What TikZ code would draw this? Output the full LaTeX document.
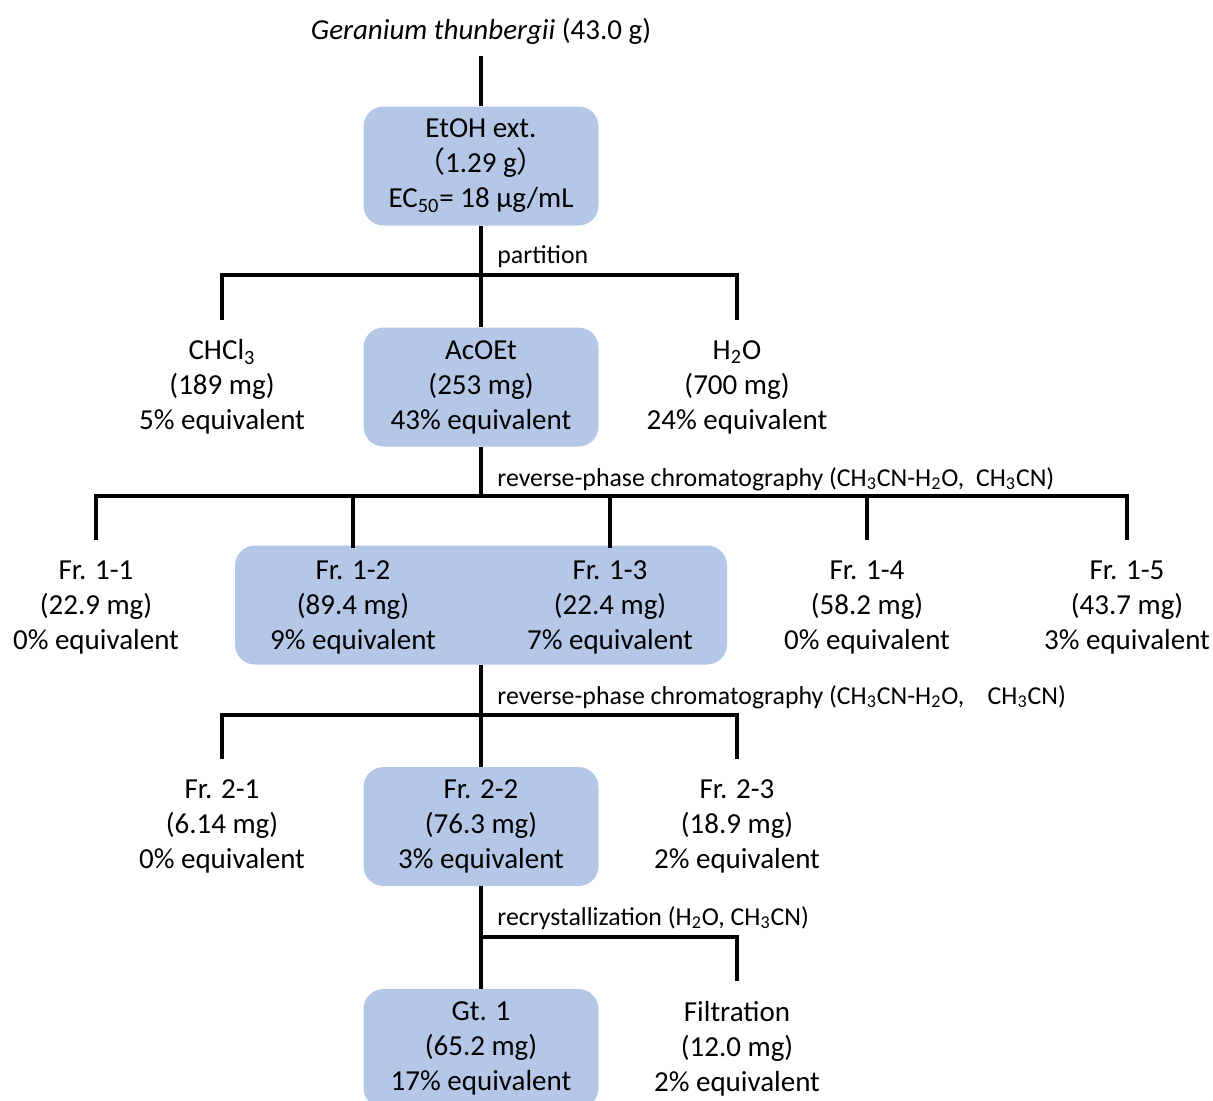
\documentclass[tikz,border=0pt]{standalone}
\usepackage{fontspec}
\setmainfont{Carlito}
\newfontfamily\cjk{Noto Sans CJK JP}
\usepackage{tikz}
\usetikzlibrary{positioning,calc}
\newcommand{\sub}[1]{\textsubscript{#1}}
\definecolor{boxblue}{HTML}{B4C7E7}
\tikzset{
block/.style = {fill=boxblue, rectangle, rounded corners=10pt, minimum height=59.5pt, minimum width=117.5pt, align=center, inner sep=0pt, execute at begin node={\rule{0pt}{16pt}}},
txt/.style = {rectangle, minimum height=59.5pt, align=center, inner sep=0pt, outer sep=4pt, execute at begin node={\rule{0pt}{16pt}}},
txtin/.style = {txt, outer sep=0pt},
tmp/.style = {coordinate},
link/.style = {line width=2pt, black},
lbl/.style = {anchor=west, font=\fontsize{12.9}{15}\selectfont, inner sep=0pt}
}

\begin{document}
\begin{tikzpicture}[x=0.5pt, y=-0.5pt, font=\fontsize{14.5}{17.5}\selectfont]
	\useasboundingbox (0,0) rectangle (1213,1100);
	% main column
	\node[inner sep=0pt, outer sep=6pt] (src) at (481,31) {\textit{Geranium thunbergii} (43.0 g)};
	\node[block] (ext) at (481,166) {EtOH ext.\\{\cjk （}1.29 g{\cjk ）}\\EC\sub{50}= 18 µg/mL};
	\node[block] (acoet) at (481,387) {AcOEt\\(253 mg)\\43\% equivalent};
	\node[block, minimum width=246pt] (frbox) at (481,605) {};
	\node[block] (fr22) at (481,826.5) {Fr. 2-2\\(76.3 mg)\\3\% equivalent};
	\node[block] (gt1) at (481,1048.5) {Gt. 1\\(65.2 mg)\\17\% equivalent};
	% partition
	\node[txt, left of=acoet, node distance=129.5pt] (chcl) {CHCl\sub{3}\\(189 mg)\\5\% equivalent};
	\node[txt, right of=acoet, node distance=128pt] (water) {H\sub{2}O\\(700 mg)\\24\% equivalent};
	% first column
	\node[txtin] (fr12) at (353,607) {Fr. 1-2\\(89.4 mg)\\9\% equivalent};
	\node[txtin, right of=fr12, node distance=128.5pt] (fr13) {Fr. 1-3\\(22.4 mg)\\7\% equivalent};
	\node[txt, left of=fr12, node distance=128.5pt] (fr11) {Fr. 1-1\\(22.9 mg)\\0\% equivalent};
	\node[txt, right of=fr13, node distance=128.5pt] (fr14) {Fr. 1-4\\(58.2 mg)\\0\% equivalent};
	\node[txt, right of=fr14, node distance=130pt] (fr15) {Fr. 1-5\\(43.7 mg)\\3\% equivalent};
	% second column
	\node[txt, left of=fr22, node distance=129.5pt] (fr21) {Fr. 2-1\\(6.14 mg)\\0\% equivalent};
	\node[txt, right of=fr22, node distance=128pt] (fr23) {Fr. 2-3\\(18.9 mg)\\2\% equivalent};
	% recrystallization
	\node[txt, right of=gt1, node distance=128pt] (filt) {Filtration\\(12.0 mg)\\2\% equivalent};
	% junctions
	\node[tmp] (b1) at (481,275) {};
	\node[tmp] (b2) at (481,496) {};
	\node[tmp] (b3) at (481,715) {};
	\node[tmp] (b4) at (481,937) {};
	\node[lbl] (l1) at (497,257) {partition};
	\node[lbl] (l2) at (497,479) {reverse-phase chromatography (CH\sub{3}CN-H\sub{2}O,\ \ CH\sub{3}CN)};
	\node[lbl] (l3) at (497,697) {reverse-phase chromatography (CH\sub{3}CN-H\sub{2}O,\ \ \ \ CH\sub{3}CN)};
	\node[lbl] (l4) at (497,918) {recrystallization (H\sub{2}O, CH\sub{3}CN)};
	% connectors
	\draw[link] (src) -- (ext);
	\draw[link] (ext) -- (b1) -- (acoet);
	\draw[link] (chcl) |- (b1) -| (water);
	\draw[link] (acoet) -- (b2);
	\draw[link] (fr11) |- (b2) -| (fr15);
	\draw[link] (fr12) -- (fr12 |- b2);
	\draw[link] (fr13) -- (fr13 |- b2);
	\draw[link] (fr14) -- (fr14 |- b2);
	\draw[link] (frbox) -- (b3) -- (fr22);
	\draw[link] (fr21) |- (b3) -| (fr23);
	\draw[link] (fr22) -- (b4) -- (gt1);
	\draw[link] (b4) -| (filt);
\end{tikzpicture}
\end{document}
